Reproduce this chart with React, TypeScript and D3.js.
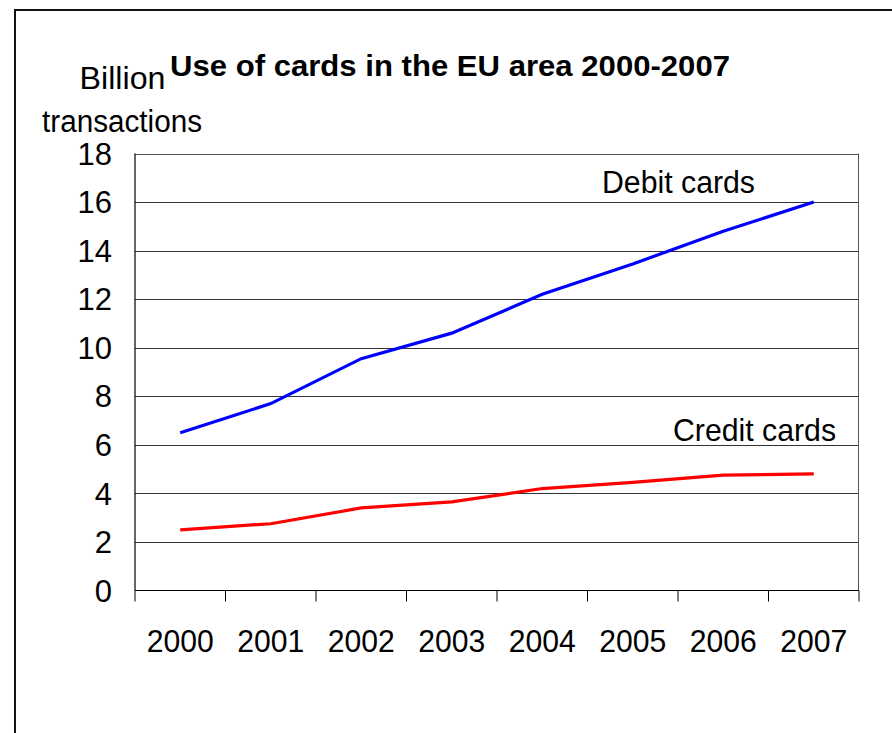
import React from "react";
import * as d3 from "d3";

const years = ["2000", "2001", "2002", "2003", "2004", "2005", "2006", "2007"];
const debit = [6.5, 7.7, 9.55, 10.6, 12.2, 13.45, 14.8, 16.0];
const credit = [2.5, 2.75, 3.4, 3.65, 4.2, 4.45, 4.75, 4.8];
const yTicks = [0, 2, 4, 6, 8, 10, 12, 14, 16, 18];

const W = 892, H = 733;
const left = 135, right = 859, top = 153.5, bottom = 590.5;
const FONT = "'Liberation Sans', Arial, sans-serif";
const ADJ = "spacingAndGlyphs";

export default function App() {
  const x = d3.scaleBand<string>().domain(years).range([left, right]).padding(0);
  const y = d3.scaleLinear().domain([0, 18]).range([bottom, top]);
  const line = d3.line<number>()
    .x((_, i) => (x(years[i]) as number) + x.bandwidth() / 2)
    .y((d) => y(d));
  const boundaries = years.map((yr) => x(yr) as number).concat([right]);
  return (
    <svg width={W} height={H} style={{ position: "absolute", left: 0, top: 0, background: "#fff" }}>
      <rect x={0} y={0} width={W} height={H} fill="#fff" />
      <line x1={15} y1={10} x2={15} y2={H} stroke="#111" strokeWidth={2} />
      <line x1={14} y1={10} x2={W} y2={10} stroke="#111" strokeWidth={2} />
      {/* gridlines */}
      {yTicks.filter((t) => t > 0).map((t) => (
        <line key={t} x1={left} x2={right} y1={Math.round(y(t)) + 0.5} y2={Math.round(y(t)) + 0.5} stroke={t === 18 ? "#555" : "#333"} strokeWidth={1} />
      ))}
      <line x1={right - 0.5} x2={right - 0.5} y1={top} y2={bottom} stroke="#555" strokeWidth={1} />
      <line x1={left} x2={left} y1={top} y2={bottom} stroke="#000" strokeWidth={1.2} />
      <line x1={left} x2={right} y1={bottom} y2={bottom} stroke="#000" strokeWidth={1.2} />
      {boundaries.map((b, i) => (
        <line key={i} x1={b} x2={b} y1={bottom} y2={bottom + 11} stroke="#000" strokeWidth={1} />
      ))}
      {yTicks.map((t) => (
        <text key={t} x={112} y={y(t)} dy="0.36em" textAnchor="end" fontFamily={FONT} fontSize={31}>{t}</text>
      ))}
      {years.map((yr) => (
        <text key={yr} x={(x(yr) as number) + x.bandwidth() / 2} y={651.5} textAnchor="middle" fontFamily={FONT} fontSize={32} textLength={67} lengthAdjust={ADJ}>{yr}</text>
      ))}
      <path d={line(debit) || ""} fill="none" stroke="#0000ff" strokeWidth={3.2} />
      <path d={line(credit) || ""} fill="none" stroke="#ff0000" strokeWidth={3.2} />
      <text x={170} y={76} fontFamily={FONT} fontSize={29.5} fontWeight="bold" textLength={560} lengthAdjust={ADJ}>Use of cards in the EU area 2000-2007</text>
      <text x={79.5} y={89} fontFamily={FONT} fontSize={32} textLength={86} lengthAdjust={ADJ}>Billion</text>
      <text x={42} y={131.5} fontFamily={FONT} fontSize={31} textLength={160} lengthAdjust={ADJ}>transactions</text>
      <text x={602} y={193} fontFamily={FONT} fontSize={31} textLength={153} lengthAdjust={ADJ}>Debit cards</text>
      <text x={673} y={441} fontFamily={FONT} fontSize={32} textLength={163} lengthAdjust={ADJ}>Credit cards</text>
    </svg>
  );
}
